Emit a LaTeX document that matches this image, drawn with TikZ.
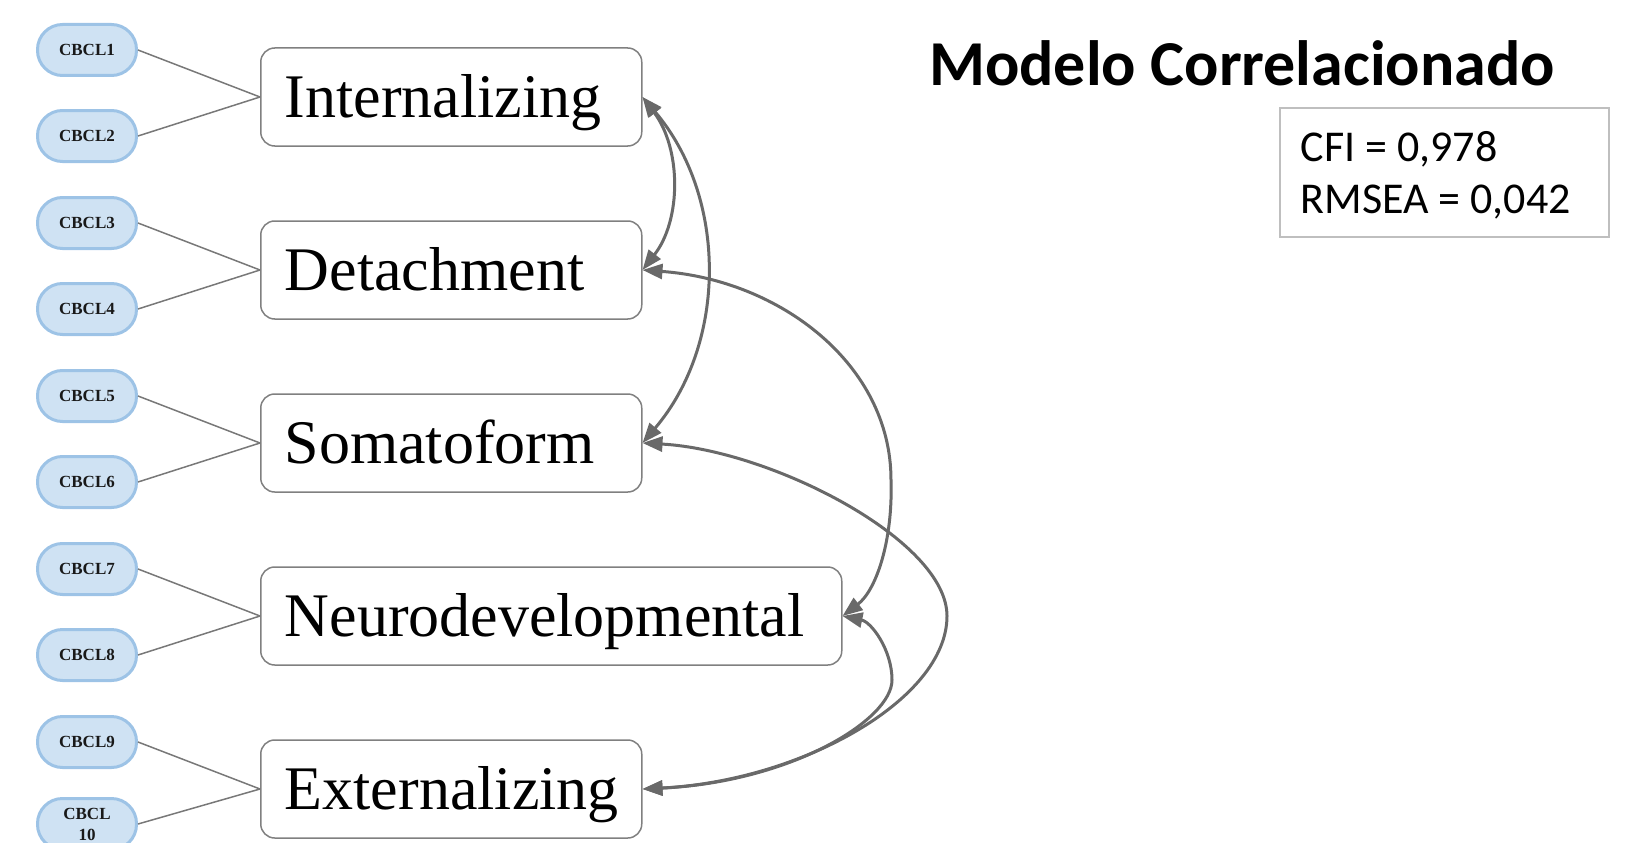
\documentclass[tikz,border=0pt]{standalone}
\usepackage{fontspec}
\setmainfont{Liberation Serif}
\newfontfamily\calibri{Carlito}
\usetikzlibrary{arrows.meta}
\definecolor{pillfill}{RGB}{207,226,243}
\definecolor{pilldraw}{RGB}{157,195,230}
\definecolor{boxdraw}{RGB}{128,128,128}
\definecolor{linkgray}{RGB}{120,120,120}
\definecolor{arrowgray}{RGB}{105,105,105}
\definecolor{fitdraw}{RGB}{191,191,191}
\begin{document}
\begin{tikzpicture}[x=1pt,y=-1pt,
  pill/.style={draw=pilldraw, fill=pillfill, line width=3pt, rounded corners=25pt,
    minimum width=99pt, minimum height=51pt, inner sep=0pt,
    font=\fontsize{17}{21}\selectfont\bfseries, text=black!90, align=center},
  latent/.style={draw=boxdraw, line width=1.5pt, rounded corners=14pt, minimum height=98pt,
    inner xsep=24pt, inner ysep=0pt, font=\fontsize{62}{70}\selectfont,
    text height=41pt, text depth=0pt, align=left, anchor=west},
  load/.style={draw=linkgray, line width=1.5pt},
  cov/.style={draw=arrowgray, line width=3pt,
    {Triangle[length=20pt,width=15pt]}-{Triangle[length=20pt,width=15pt]}},
]
\useasboundingbox (0,0) rectangle (1631,843);

% observed indicators
\node[pill] (c1) at (87,50) {CBCL1};
\node[pill] (c2) at (87,136) {CBCL2};
\node[pill] (c3) at (87,223) {CBCL3};
\node[pill] (c4) at (87,309) {CBCL4};
\node[pill] (c5) at (87,396) {CBCL5};
\node[pill] (c6) at (87,482) {CBCL6};
\node[pill] (c7) at (87,569) {CBCL7};
\node[pill] (c8) at (87,655) {CBCL8};
\node[pill] (c9) at (87,742) {CBCL9};
\node[pill] (c10) at (87,824) {CBCL\\10};

% latent factors
\node[latent, text width=333pt] (int) at (260,97) {Internalizing};
\node[latent, text width=333pt] (det) at (260,270) {Detachment};
\node[latent, text width=333pt] (som) at (260,443) {Somatoform};
\node[latent, text width=533pt] (neu) at (260,616) {Neurodevelopmental};
\node[latent, text width=333pt] (ext) at (260,789) {Externalizing};

% loadings
\draw[load] (c1.east) -- (int.west);
\draw[load] (c2.east) -- (int.west);
\draw[load] (c3.east) -- (det.west);
\draw[load] (c4.east) -- (det.west);
\draw[load] (c5.east) -- (som.west);
\draw[load] (c6.east) -- (som.west);
\draw[load] (c7.east) -- (neu.west);
\draw[load] (c8.east) -- (neu.west);
\draw[load] (c9.east) -- (ext.west);
\draw[load] (c10.east) -- (ext.west);

% turning points of the long covariance arcs
\coordinate (cdn) at (891,480);
\coordinate (cse) at (947,616);
\coordinate (cne) at (892,680);

% covariances
\draw[cov] (int.east) .. controls +(39,52) and +(39,-50) .. (det.east);
\draw[cov] (int.east) .. controls +(85,100) and +(85,-100) .. (som.east);
\draw[cov] (det.east) .. controls +(137,10) and +(0,-116) .. (cdn)
                      .. controls +(2,60) and +(34,-26) .. (neu.east);
\draw[cov] (som.east) .. controls +(128,7) and +(0,-76) .. (cse)
                      .. controls +(0,84) and +(158,-8) .. (ext.east);
\draw[cov] (neu.east) .. controls +(29,6) and +(0,-30) .. (cne)
                      .. controls +(0,40) and +(148,-7) .. (ext.east);

% title and fit indices
\node[anchor=base west, inner sep=0pt, font=\calibri\bfseries\fontsize{64}{70}\selectfont] (title) at (929,85) {Modelo Correlacionado};
\node[draw=fitdraw, line width=1.5pt, anchor=north west, inner xsep=0pt,
  inner ysep=0pt, minimum width=329pt, minimum height=129pt, align=left,
  font=\calibri\fontsize{44}{52}\selectfont] (fit) at (1279,107)
  {\rule{0pt}{37pt}CFI = 0,978\\RMSEA = 0,042\hspace*{17pt}};
\end{tikzpicture}
\end{document}
